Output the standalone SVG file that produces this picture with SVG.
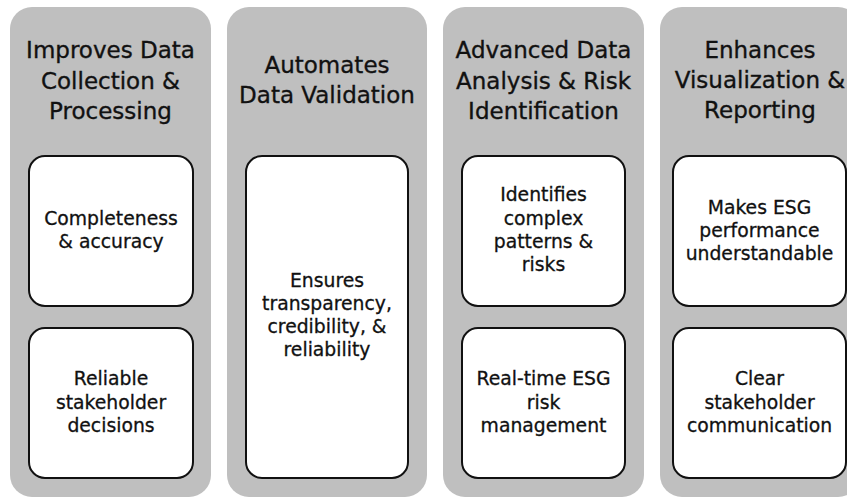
<svg xmlns="http://www.w3.org/2000/svg" width="847" height="500" viewBox="0 0 847 500">
<style>
.col{fill:#bfbfbf;}
.box{fill:#ffffff;stroke:#111111;stroke-width:2;}
.h{font-family:"DejaVu Sans","Liberation Sans",sans-serif;font-size:23px;fill:#111111;stroke:#111111;stroke-width:0.35;text-anchor:middle;}
.t{font-family:"DejaVu Sans","Liberation Sans",sans-serif;font-size:18.8px;fill:#111111;stroke:#111111;stroke-width:0.3;text-anchor:middle;}
</style>
<rect width="847" height="500" fill="#ffffff"/>
<g id="col1">
<rect class="col" x="10" y="7" width="201" height="490" rx="22"/>
<text class="h" x="110.5" y="58">Improves Data</text>
<text class="h" x="110.5" y="89">Collection &amp;</text>
<text class="h" x="110.5" y="119">Processing</text>
</g>
<g id="col2">
<rect class="col" x="227" y="7" width="200" height="490" rx="22"/>
<text class="h" x="327" y="73">Automates</text>
<text class="h" x="327" y="103">Data Validation</text>
</g>
<g id="col3">
<rect class="col" x="443" y="7" width="201" height="490" rx="22"/>
<text class="h" x="543.5" y="58">Advanced Data</text>
<text class="h" x="543.5" y="89">Analysis &amp; Risk</text>
<text class="h" x="543.5" y="119">Identification</text>
</g>
<g id="col4">
<rect class="col" x="660" y="7" width="200" height="490" rx="22"/>
<text class="h" x="760" y="58">Enhances</text>
<text class="h" x="760" y="88">Visualization &amp;</text>
<text class="h" x="760" y="118">Reporting</text>
</g>
<g id="box1a">
<rect class="box" x="29" y="156" width="164" height="150" rx="16"/>
<text class="t" x="111" y="225">Completeness</text>
<text class="t" x="111" y="248">&amp; accuracy</text>
</g>
<g id="box1b">
<rect class="box" x="29" y="328" width="164" height="150" rx="16"/>
<text class="t" x="111" y="385">Reliable</text>
<text class="t" x="111" y="408.5">stakeholder</text>
<text class="t" x="111" y="432">decisions</text>
</g>
<g id="box2">
<rect class="box" x="246" y="156" width="162" height="322" rx="16"/>
<text class="t" x="327" y="287">Ensures</text>
<text class="t" x="327" y="310">transparency,</text>
<text class="t" x="327" y="333">credibility, &amp;</text>
<text class="t" x="327" y="356">reliability</text>
</g>
<g id="box3a">
<rect class="box" x="462" y="156" width="163" height="150" rx="16"/>
<text class="t" x="543.5" y="201">Identifies</text>
<text class="t" x="543.5" y="224.5">complex</text>
<text class="t" x="543.5" y="248">patterns &amp;</text>
<text class="t" x="543.5" y="271">risks</text>
</g>
<g id="box3b">
<rect class="box" x="462" y="328" width="163" height="150" rx="16"/>
<text class="t" x="543.5" y="385">Real-time ESG</text>
<text class="t" x="543.5" y="408.5">risk</text>
<text class="t" x="543.5" y="432">management</text>
</g>
<g id="box4a">
<rect class="box" x="673" y="156" width="173" height="150" rx="16"/>
<text class="t" x="759.5" y="214">Makes ESG</text>
<text class="t" x="759.5" y="237">performance</text>
<text class="t" x="759.5" y="260">understandable</text>
</g>
<g id="box4b">
<rect class="box" x="673" y="328" width="173" height="150" rx="16"/>
<text class="t" x="759.5" y="385">Clear</text>
<text class="t" x="759.5" y="408.5">stakeholder</text>
<text class="t" x="759.5" y="432">communication</text>
</g>
<g id="connectors"></g>
</svg>
